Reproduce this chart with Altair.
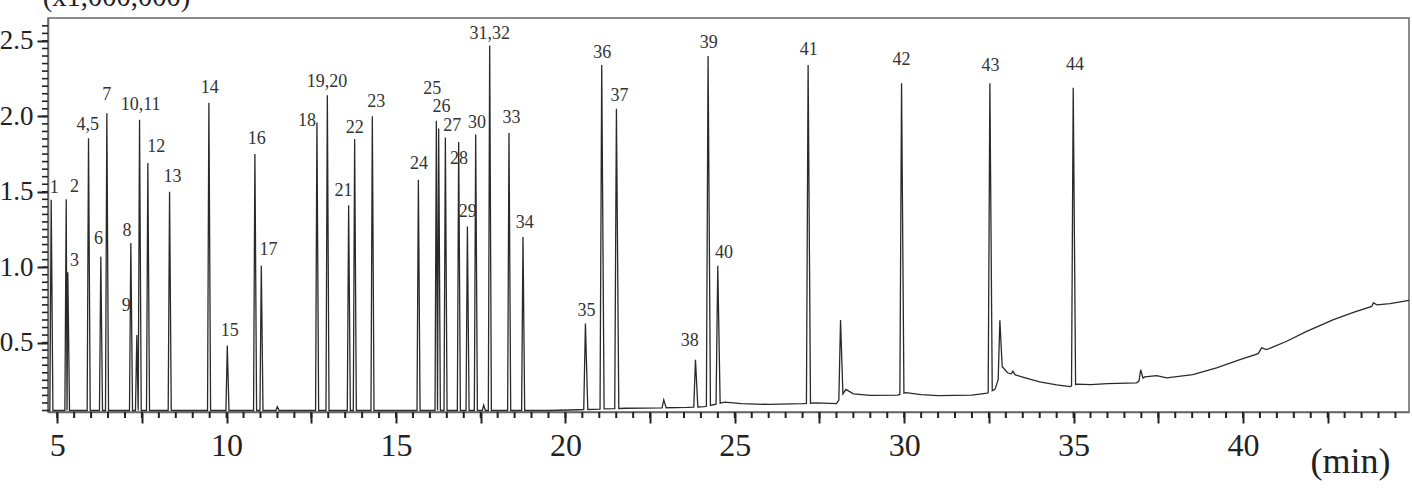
import altair as alt
import numpy as np
import pandas as pd

# ---- peaks (retention time in min, apex height x1,000,000)
peak_time = [4.823, 5.266, 5.313, 5.924, 6.287, 6.465, 7.173, 7.350, 7.430, 7.675,
             8.316, 9.477, 10.020, 10.835, 11.024, 11.496, 12.666, 12.973, 13.602, 13.779,
             14.301, 15.660, 16.191, 16.259, 16.457, 16.850, 17.107, 17.352, 17.588, 17.765,
             18.335, 18.748, 20.591, 21.072, 21.506, 22.903, 23.839, 24.211, 24.497, 27.164,
             28.121, 29.922, 32.529, 32.824, 33.208, 34.989, 36.98]
peak_height = [1.447, 1.45, 0.966, 1.855, 1.07, 2.02, 1.16, 0.55, 1.977, 1.69,
               1.50, 2.09, 0.48, 1.75, 1.01, 0.075, 1.96, 2.14, 1.41, 1.85,
               2.0, 1.58, 1.97, 1.92, 1.86, 1.83, 1.27, 1.88, 0.085, 2.47,
               1.89, 1.20, 0.626, 2.34, 2.05, 0.12, 0.387, 2.40, 1.01, 2.34,
               0.65, 2.22, 2.22, 0.648, 0.31, 2.19, 0.32]

# ---- baseline (drift) knots
baseline_time = [4.728, 8.0, 12.0, 16.0, 19.5, 20.4, 21.8, 23.6, 24.1, 24.7,
                 25.2, 26.0, 27.0, 27.4, 28.0, 28.28, 28.5, 29.0, 29.8, 30.05,
                 30.5, 31.0, 32.0, 32.45, 32.68, 32.9, 33.05, 33.3, 33.6, 34.0,
                 34.5, 34.9, 35.1, 35.5, 36.0, 36.86, 37.1, 37.45, 37.75, 38.52,
                 39.22, 39.91, 40.45, 40.55, 40.70, 41.29, 41.88, 42.67, 43.26, 43.8,
                 43.85, 43.95, 44.34, 44.9]
baseline_level = [0.05, 0.05, 0.05, 0.05, 0.05, 0.055, 0.065, 0.07, 0.075, 0.105,
                  0.095, 0.09, 0.095, 0.10, 0.095, 0.19, 0.16, 0.15, 0.152, 0.168,
                  0.155, 0.148, 0.152, 0.165, 0.19, 0.34, 0.30, 0.285, 0.265, 0.24,
                  0.22, 0.208, 0.225, 0.222, 0.228, 0.233, 0.273, 0.281, 0.266, 0.288,
                  0.332, 0.387, 0.427, 0.465, 0.454, 0.509, 0.575, 0.652, 0.70, 0.74,
                  0.765, 0.75, 0.758, 0.78]

# ---- peak labels
label_text = ["1", "2", "3", "4,5", "6", "7", "8", "9", "10,11", "12", "13", "14",
              "15", "16", "17", "18", "19,20", "21", "22", "23", "24", "25", "26",
              "27", "28", "29", "30", "31,32", "33", "34", "35", "36", "37", "38",
              "39", "40", "41", "42", "43", "44"]
label_time = [4.91, 5.51, 5.51, 5.90, 6.22, 6.46, 7.06, 7.04, 7.46, 7.92, 8.40, 9.50,
              10.09, 10.89, 11.24, 12.37, 12.96, 13.45, 13.78, 14.42, 15.68, 16.07, 16.34,
              16.66, 16.86, 17.12, 17.39, 17.77, 18.41, 18.80, 20.62, 21.09, 21.60, 23.67,
              24.23, 24.68, 27.18, 29.92, 32.55, 35.04]
label_level = [1.525, 1.531, 1.038, 1.944, 1.187, 2.142, 1.237, 0.740, 2.076, 1.80, 1.601, 2.187,
               0.575, 1.849, 1.116, 1.966, 2.225, 1.502, 1.922, 2.098, 1.685, 2.18, 2.06,
               1.937, 1.716, 1.363, 1.955, 2.546, 1.988, 1.293, 0.707, 2.419, 2.138, 0.509,
               2.485, 1.094, 2.44, 2.374, 2.334, 2.341]

x_major_ticks = [5 + 2.5 * i for i in range(16)]          # 5 ... 42.5
x_minor_ticks = [5 + 0.5 * i for i in range(80)]          # every 0.5 min
x_label_values = [5, 10, 15, 20, 25, 30, 35, 40]
y_major_ticks = [0.5, 1.0, 1.5, 2.0, 2.5]
y_minor_ticks = [round(0.05 * i, 2) for i in range(1, 53)]

X_DOMAIN = [4.728, 44.9]
Y_DOMAIN = [0.04, 2.652]
W, H = 1361, 394
FONT = "Liberation Serif"
TICK = "#222"

# ---- assemble the trace: baseline knots plus a narrow peak at each retention time
bt = np.array(baseline_time)
bl = np.array(baseline_level)
pts = []
windows = []
n = len(peak_time)
for i, (t, h) in enumerate(zip(peak_time, peak_height)):
    hl, hr = (0.04, 0.05) if t < 20 else (0.05, 0.07)
    lo, hi = t - hl, t + hr
    if i > 0:
        lo = max(lo, (peak_time[i - 1] + t) / 2)
    if i < n - 1:
        hi = min(hi, (t + peak_time[i + 1]) / 2)
    windows.append((lo, hi))
    pts += [(lo, float(np.interp(lo, bt, bl))), (t, h), (hi, float(np.interp(hi, bt, bl)))]
for t, y in zip(baseline_time, baseline_level):
    if not any(lo < t < hi for lo, hi in windows):
        pts.append((t, y))
pts.sort(key=lambda p: p[0])
trace = pd.DataFrame(pts, columns=["t", "y"])
trace["i"] = range(len(trace))

labels = pd.DataFrame({"t": label_time, "y": label_level, "label": label_text})

x_scale = alt.Scale(domain=X_DOMAIN, nice=False, zero=False)
y_scale = alt.Scale(domain=Y_DOMAIN, nice=False, zero=False)

x_labels_js = "[" + ",".join(str(v) for v in x_label_values) + "]"

x_axis = alt.Axis(
    orient="bottom", values=x_major_ticks,
    labelExpr="indexof(" + x_labels_js + ", datum.value) >= 0 ? datum.label : ''",
    ticks=True, tickSize=11, tickColor=TICK, tickWidth=2,
    labelFont=FONT, labelFontSize=32, labelColor="#222",
    labelPadding=7, labelOverlap=False, labelFlush=False,
    domainColor="#666", domainWidth=1.5, grid=False,
    title="(min)", titleFont=FONT, titleFontSize=36, titleFontWeight="normal",
    titleColor="#222", titleX=1302, titleY=60, titleAlign="center",
    titleBaseline="alphabetic", titleAngle=0,
)
y_axis = alt.Axis(
    orient="left", values=y_major_ticks, format=".1f",
    ticks=True, tickSize=11, tickColor=TICK, tickWidth=2,
    labelFont=FONT, labelFontSize=27, labelColor="#222",
    labelPadding=4, labelOverlap=False, labelFlush=False,
    domainColor="#666", domainWidth=1.5, grid=False,
    title="(x1,000,000)", titleFont=FONT, titleFontSize=28.6, titleFontWeight="normal",
    titleColor="#222", titleX=68, titleY=-12.5, titleAlign="center",
    titleBaseline="alphabetic", titleAngle=0,
)

line = alt.Chart(trace).mark_line(color="#2a2a2a", strokeWidth=1.3).encode(
    x=alt.X("t:Q", scale=x_scale, axis=x_axis),
    y=alt.Y("y:Q", scale=y_scale, axis=y_axis),
    order="i:Q",
)
text = alt.Chart(labels).mark_text(
    font=FONT, fontSize=18, color="#333", align="center", baseline="middle"
).encode(
    x=alt.X("t:Q", scale=x_scale, axis=None),
    y=alt.Y("y:Q", scale=y_scale, axis=None),
    text="label:N",
)

# ---- minor tick marks (outside the frame), placed through the same scales
xt_minor = alt.Chart(pd.DataFrame({"t": x_minor_ticks})).mark_rule(
    color=TICK, strokeWidth=2, clip=False
).encode(x=alt.X("t:Q", scale=x_scale, axis=None), y=alt.value(H), y2=alt.value(H + 6))
yt_minor = alt.Chart(pd.DataFrame({"y": y_minor_ticks})).mark_rule(
    color=TICK, strokeWidth=1.6, clip=False
).encode(y=alt.Y("y:Q", scale=y_scale, axis=None), x=alt.value(0), x2=alt.value(-6))

chart = alt.layer(line, text, xt_minor, yt_minor).resolve_axis(
    x="independent", y="independent"
).properties(
    width=W, height=H,
    autosize=alt.AutoSizeParams(type="none"),
    padding={"left": 48, "top": 18, "right": 3, "bottom": 84},
    background="white",
).configure_view(stroke="#666", strokeWidth=1.5)

chart.save("out.html", embed_options={"renderer": "svg", "actions": False})
